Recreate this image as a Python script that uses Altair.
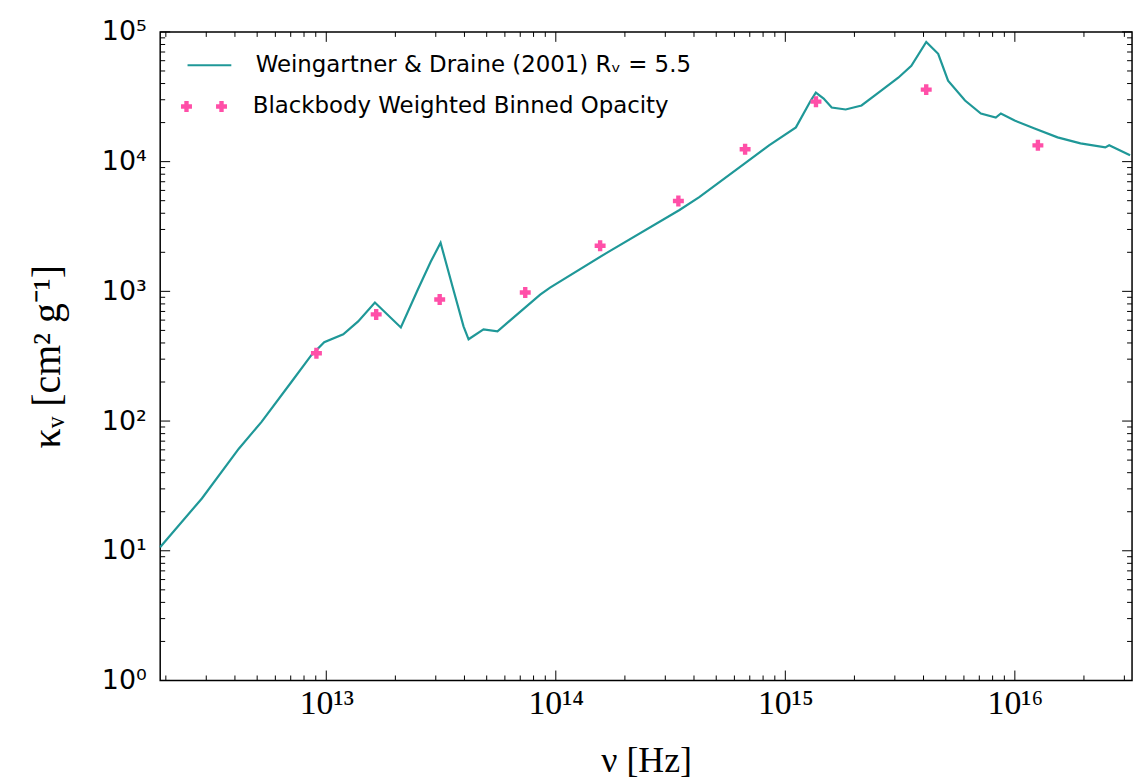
import math
import altair as alt
import pandas as pd

# ---- data ----
line_nu = [1.888e12, 2.871e12, 4.159e12, 5.224e12, 7.047e12, 8.610e12, 9.795e12,
           1.186e13, 1.377e13, 1.629e13, 2.113e13, 2.506e13, 2.851e13, 3.148e13,
           3.548e13, 3.963e13, 4.169e13, 4.842e13, 5.572e13, 8.551e13, 9.441e13,
           1.667e14, 3.459e14, 4.217e14, 6.683e14, 8.492e14, 1.112e15, 1.291e15,
           1.358e15, 1.469e15, 1.592e15, 1.832e15, 2.148e15, 2.547e15, 3.105e15,
           3.540e15, 4.111e15, 4.634e15, 5.117e15, 6.067e15, 7.112e15, 8.260e15,
           8.690e15, 9.977e15, 1.219e16, 1.535e16, 1.932e16, 2.477e16, 2.576e16,
           3.177e16]
line_kappa = [10.66, 25.3, 61.2, 98.6, 200, 322, 405,
              467, 586, 820, 527, 1033, 1690, 2366,
              1089, 537, 427, 509, 492, 944, 1069,
              1982, 4236, 5333, 9727, 13370, 18370, 29580,
              34040, 30620, 26120, 25230, 27100, 34040, 44360,
              54830, 83750, 67760, 42070, 29580, 23500, 21880,
              23500, 20750, 18030, 15380, 13840, 12880, 13370,
              11190]

bin_nu = [9.06e12, 1.65e13, 3.12e13, 7.36e13, 1.56e14, 3.42e14, 6.68e14,
          1.36e15, 4.11e15, 1.26e16]
bin_kappa = [333, 664, 865, 979, 2245, 4970, 12450, 29000, 35900, 13360]

line_label = "Weingartner & Draine (2001) Rᵥ = 5.5"
bin_label = "Blackbody Weighted Binned Opacity"

x_major = [1e13, 1e14, 1e15, 1e16]
y_major = [1, 10, 100, 1000, 10000, 100000]
x_domain = [1.89e12, 3.24e16]
y_domain = [1, 1e5]

x_minor = [k * 10.0 ** d for d in range(12, 17) for k in range(2, 10)
           if x_domain[0] <= k * 10.0 ** d <= x_domain[1]]
y_minor = [k * 10.0 ** d for d in range(0, 5) for k in range(2, 10)]

# ---- styling ----
W, H = 977, 652
TEAL = "#1f9898"
PINK = "#ff4fa8"
SUP = {"0": "⁰", "1": "¹", "2": "²", "3": "³", "4": "⁴",
       "5": "⁵", "6": "⁶", "7": "⁷", "8": "⁸", "9": "⁹"}


def label_expr(values):
    parts = []
    for v in values:
        e = str(round(math.log10(v)))
        sup = "".join(SUP[c] for c in e)
        parts.append("datum.value > %s && datum.value < %s ? '10%s'" % (repr(v * 0.9), repr(v * 1.1), sup))
    return " : ".join(parts) + " : ''"


line_df = pd.DataFrame({"nu": line_nu, "kappa": line_kappa, "series": line_label})
bin_df = pd.DataFrame({"nu": bin_nu, "kappa": bin_kappa, "series": bin_label})

xscale = alt.Scale(type="log", domain=x_domain, nice=False)
yscale = alt.Scale(type="log", domain=y_domain, nice=False)

x_axis = alt.Axis(values=x_major, labelExpr=label_expr(x_major), ticks=False,
                  domain=False, grid=False, labelFont="Liberation Serif", labelFontSize=34,
                  labelColor="black", labelPadding=6,
                  title="ν [Hz]", titleFont="Liberation Serif", titleFontSize=36,
                  titleFontWeight="normal", titleColor="black", titlePadding=24)
y_axis = alt.Axis(values=y_major, labelExpr=label_expr(y_major), ticks=False,
                  domain=False, grid=False, labelFont="DejaVu Sans", labelFontSize=27,
                  labelColor="black", labelPadding=14,
                  title="κᵥ [cm² g⁻¹]", titleFont="Liberation Serif", titleFontSize=40,
                  titleFontWeight="normal", titleColor="black", titlePadding=34)

legend_common = dict(orient="none", title=None, labelFont="DejaVu Sans", labelFontSize=23,
                     labelColor="black", labelLimit=900, labelOffset=23, padding=0,
                     symbolSize=1936, legendX=26, columnPadding=0, rowPadding=0)

line = alt.Chart(line_df).mark_line(strokeWidth=2.2).encode(
    x=alt.X("nu:Q", scale=xscale, axis=x_axis),
    y=alt.Y("kappa:Q", scale=yscale, axis=y_axis),
    color=alt.Color("series:N", scale=alt.Scale(domain=[line_label], range=[TEAL]),
                    legend=alt.Legend(symbolType="stroke", symbolStrokeWidth=2.2,
                                      legendY=10, **legend_common)),
)

plus_path = ("M-1,-0.4 L-0.4,-0.4 L-0.4,-1 L0.4,-1 L0.4,-0.4 L1,-0.4 L1,0.4 "
             "L0.4,0.4 L0.4,1 L-0.4,1 L-0.4,0.4 L-1,0.4 Z")


def plus_at(c, a=0.25, w=0.1):
    pts = [(c - a, -w), (c - w, -w), (c - w, -a), (c + w, -a), (c + w, -w), (c + a, -w),
           (c + a, w), (c + w, w), (c + w, a), (c - w, a), (c - w, w), (c - a, w)]
    return "M" + " L".join(f"{x:.3f},{y:.3f}" for x, y in pts) + " Z"


legend_path = plus_at(-0.98) + " " + plus_at(0.62)

points = alt.Chart(bin_df).mark_point(filled=True, size=121, shape=plus_path,
                                      opacity=1, strokeWidth=0).encode(
    x=alt.X("nu:Q", scale=xscale),
    y=alt.Y("kappa:Q", scale=yscale),
    color=alt.Color("series:N", scale=alt.Scale(domain=[bin_label], range=[PINK]),
                    legend=alt.Legend(symbolType=legend_path, symbolStrokeWidth=0,
                                      legendY=53, **legend_common)),
)


def xticks(vals, length, top):
    df = pd.DataFrame({"nu": vals})
    enc = dict(x=alt.X("nu:Q", scale=xscale))
    if top:
        enc.update(y=alt.value(0), y2=alt.value(length))
    else:
        enc.update(y=alt.value(H), y2=alt.value(H - length))
    return alt.Chart(df).mark_rule(color="black", strokeWidth=1).encode(**enc)


def yticks(vals, length, right):
    df = pd.DataFrame({"kappa": vals})
    enc = dict(y=alt.Y("kappa:Q", scale=yscale))
    if right:
        enc.update(x=alt.value(W), x2=alt.value(W - length))
    else:
        enc.update(x=alt.value(0), x2=alt.value(length))
    return alt.Chart(df).mark_rule(color="black", strokeWidth=1).encode(**enc)


tick_layers = [
    xticks(x_major, 10, False), xticks(x_major, 10, True),
    xticks(x_minor, 5, False), xticks(x_minor, 5, True),
    yticks(y_major, 10, False), yticks(y_major, 10, True),
    yticks(y_minor, 5, False), yticks(y_minor, 5, True),
]

chart = alt.layer(line, points, *tick_layers).resolve_scale(color="independent").properties(
    width=W, height=H,
    padding={"left": 19, "top": 8, "right": 5, "bottom": 0},
    background="white",
).configure_view(stroke="black", strokeWidth=1.5)

chart.save("out.html", embed_options={"renderer": "svg", "actions": False})
